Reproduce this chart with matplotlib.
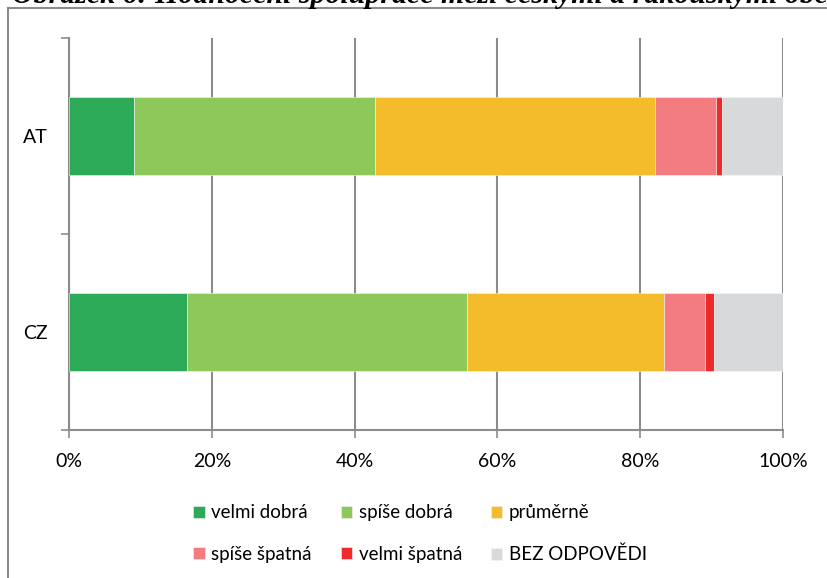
import numpy as np
import matplotlib.pyplot as plt
from matplotlib.lines import Line2D

categories = ["AT", "CZ"]
labels = ["velmi dobrá", "spíše dobrá", "průměrně", "spíše špatná", "velmi špatná", "BEZ ODPOVĚDI"]
colors = ["#2DAA57", "#8FC85A", "#F4BB2B", "#F27C80", "#EE2A2A", "#D8D9DB"]

# share of answers in percent, one list per answer category (AT, CZ)
velmi_dobra = [9.1, 16.5]
spise_dobra = [33.8, 39.2]
prumerne = [39.2, 27.7]
spise_spatna = [8.5, 5.7]
velmi_spatna = [0.9, 1.2]
bez_odpovedi = [8.5, 9.7]

series = [velmi_dobra, spise_dobra, prumerne, spise_spatna, velmi_spatna, bez_odpovedi]

W, H = 828, 578
fig = plt.figure(figsize=(W / 100, H / 100), dpi=100)
ax = fig.add_axes([69 / W, 1 - 430 / H, (783 - 69) / W, (430 - 38) / H])

grey = "#8C8C8C"
font = ["Lato", "DejaVu Sans"]

y = np.arange(len(categories))
left = np.zeros(len(categories))
handles = []
for vals, lab, col in zip(series, labels, colors):
    b = ax.barh(y, vals, left=left, height=0.4, color=col, edgecolor="#f4f4f4",
                linewidth=0.4, label=lab, zorder=3)
    handles.append(b)
    left += np.array(vals)

ax.set_xlim(0, 100)
ax.set_ylim(1.5, -0.5)
ax.set_xticks(np.arange(0, 101, 20))
ax.set_xticklabels([f"{v}%" for v in range(0, 101, 20)], fontsize=14, family=font)
ax.xaxis.grid(True, color=grey, linewidth=1.5, zorder=0)

ax.set_yticks([-0.5, 0.5, 1.5])
ax.set_yticklabels([])
ax.set_yticks(y, minor=True)
ax.set_yticklabels(categories, minor=True, fontsize=14, family=font)
ax.tick_params(axis="y", which="major", length=6, width=1.2, color=grey, direction="out")
ax.tick_params(axis="y", which="minor", length=0, pad=15)
ax.tick_params(axis="x", length=6, width=1.2, color=grey, pad=10.5)

for s in ["top", "right"]:
    ax.spines[s].set_visible(False)
for s in ["left", "bottom"]:
    ax.spines[s].set_color(grey)
    ax.spines[s].set_linewidth(1.5)

# legend in two rows of three
order = [0, 3, 1, 4, 2, 5]
leg = fig.legend([handles[i] for i in order], [labels[i] for i in order],
                 ncol=3, loc="upper left", bbox_to_anchor=(184 / W, 1 - 495 / H),
                 frameon=False, prop={"family": font, "size": 13.5},
                 handlelength=0.6, handleheight=0.6, handletextpad=0.35,
                 columnspacing=1.55, labelspacing=1.3, borderpad=0)

# chart frame
fig.add_artist(Line2D([8 / W, 8 / W], [0, 1 - 8 / H], transform=fig.transFigure,
                      color=grey, linewidth=1.5))
fig.add_artist(Line2D([8 / W, 1], [1 - 8 / H, 1 - 8 / H], transform=fig.transFigure,
                      color=grey, linewidth=1.5))

# caption above the frame, running past the top edge
fig.text(12 / W, 1 - 3 / H, "Obrázek 6: Hodnocení spolupráce mezi českými a rakouskými obcemi",
         fontsize=21.5, family="Liberation Serif", style="italic", weight="bold",
         ha="left", va="baseline")

fig.savefig("out.png", dpi=100)
